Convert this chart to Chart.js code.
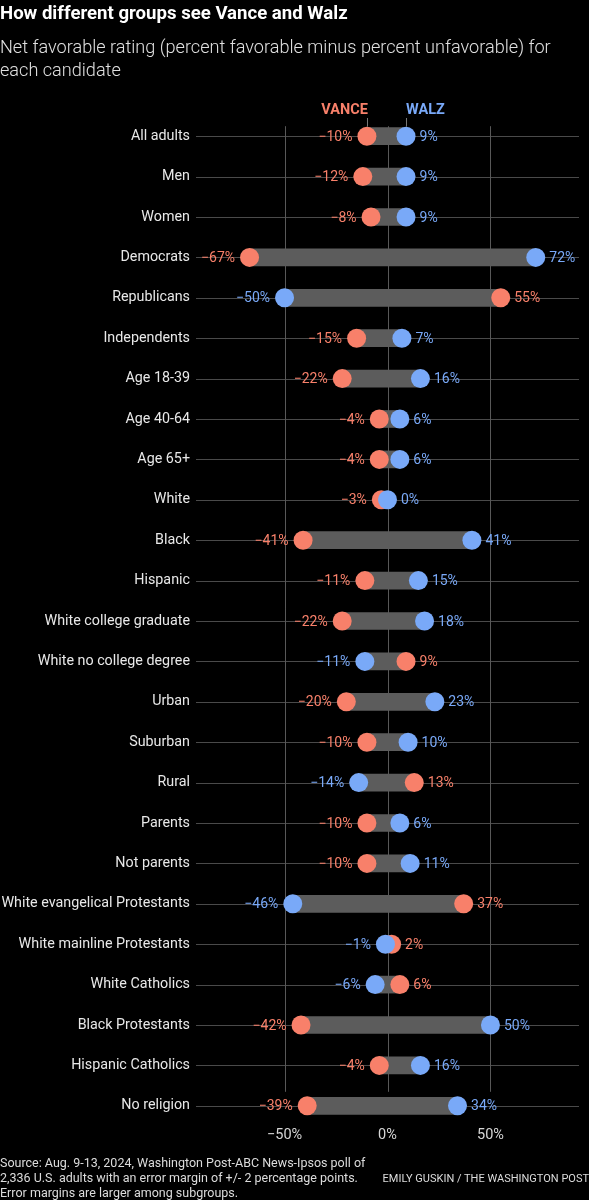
<!DOCTYPE html>
<html><head><meta charset="utf-8">
<script src="https://cdn.jsdelivr.net/npm/chart.js@4.4.1/dist/chart.umd.min.js"></script>
<style>
html,body{margin:0;padding:0;background:#000;}
#wrap{position:relative;width:589px;height:1200px;overflow:hidden;background:#000;font-family:Roboto,"Liberation Sans",sans-serif;}
#c{position:absolute;left:0;top:0;}
#title{position:absolute;left:0;top:1px;color:#fff;font-weight:700;font-size:18.6px;line-height:24px;white-space:nowrap;}
#sub{position:absolute;left:0;top:35px;color:#e0e0e0;font-weight:300;font-size:18.1px;line-height:23px;white-space:nowrap;}
#src{position:absolute;left:0;top:1155px;color:#dcdcdc;font-size:12.5px;line-height:15px;white-space:nowrap;}
#credit{position:absolute;right:0;top:1171px;color:#dcdcdc;font-size:11px;line-height:15px;white-space:nowrap;}
</style></head>
<body>
<div id="wrap">
<canvas id="c" width="589" height="1200"></canvas>
<div id="title">How different groups see Vance and Walz</div>
<div id="sub">Net favorable rating (percent favorable minus percent unfavorable) for<br>each candidate</div>
<div id="src">Source: Aug. 9-13, 2024, Washington Post-ABC News-Ipsos poll of<br>2,336 U.S. adults with an error margin of +/- 2 percentage points.<br>Error margins are larger among subgroups.</div>
<div id="credit">EMILY GUSKIN / THE WASHINGTON POST</div>
</div>
<script>
const categories = ["All adults","Men","Women","Democrats","Republicans","Independents","Age 18-39","Age 40-64","Age 65+","White","Black","Hispanic","White college graduate","White no college degree","Urban","Suburban","Rural","Parents","Not parents","White evangelical Protestants","White mainline Protestants","White Catholics","Black Protestants","Hispanic Catholics","No religion"];
const vance = [-10,-12,-8,-67,55,-15,-22,-4,-4,-3,-41,-11,-22,9,-20,-10,13,-10,-10,37,2,6,-42,-4,-39];
const walz = [9,9,9,72,-50,7,16,6,6,0,41,15,18,-11,23,10,-14,6,11,-46,-1,-6,50,16,34];
const xTicks = [-50,0,50];
const seriesNames = ["VANCE","WALZ"];

const VC = '#f8806a', WC = '#79a9f8', BAR = '#5c5c5c', LINE = '#4a4a4a';
const R = 9.5;
const fmt = v => (v < 0 ? '\u2212' + Math.abs(v) : String(v)) + '%';

const decor = {
  id: 'decor',
  beforeDatasetsDraw(chart) {
    const {ctx, chartArea: a, scales: {x, y}} = chart;
    ctx.save();
    ctx.lineWidth = 1;
    ctx.strokeStyle = LINE;
    categories.forEach((c, i) => {
      const py = Math.round(y.getPixelForValue(i)) + 0.5;
      ctx.beginPath(); ctx.moveTo(a.left, py); ctx.lineTo(a.right, py); ctx.stroke();
    });
    const top = y.getPixelForValue(0) - 10, bot = y.getPixelForValue(categories.length - 1) - 14;
    ctx.strokeStyle = '#585858';
    xTicks.forEach(v => {
      const px = Math.round(x.getPixelForValue(v)) + 0.5;
      ctx.beginPath(); ctx.moveTo(px, top); ctx.lineTo(px, bot); ctx.stroke();
    });
    ctx.restore();
  },
  afterDatasetsDraw(chart) {
    const {ctx, scales: {x, y}} = chart;
    ctx.save();
    ctx.font = '14px Roboto, "Liberation Sans", sans-serif';
    ctx.textBaseline = 'middle';
    categories.forEach((c, i) => {
      const py = y.getPixelForValue(i) + 1;
      const v = vance[i], w = walz[i];
      const xv = x.getPixelForValue(v), xw = x.getPixelForValue(w);
      const put = (val, px, color, left) => {
        ctx.fillStyle = color;
        if (left) { ctx.textAlign = 'right'; ctx.fillText(fmt(val), px - R - 5, py); }
        else { ctx.textAlign = 'left'; ctx.fillText(fmt(val), px + R + 4, py); }
      };
      if (v <= w) { put(v, xv, VC, true); put(w, xw, WC, false); }
      else { put(w, xw, WC, true); put(v, xv, VC, false); }
    });
    // header labels
    const y0 = y.getPixelForValue(0);
    const xv0 = x.getPixelForValue(vance[0]), xw0 = x.getPixelForValue(walz[0]);
    ctx.font = 'bold 14.5px Roboto, "Liberation Sans", sans-serif';
    ctx.textBaseline = 'alphabetic';
    ctx.fillStyle = VC; ctx.textAlign = 'right'; ctx.fillText(seriesNames[0], xv0 + 1, 114);
    ctx.fillStyle = WC; ctx.textAlign = 'left'; ctx.fillText(seriesNames[1], xw0, 114);
    ctx.strokeStyle = '#777'; ctx.lineWidth = 1;
    [xv0, xw0].forEach(px => {
      const p = Math.round(px) + 0.5;
      ctx.beginPath(); ctx.moveTo(p, 118); ctx.lineTo(p, y0 - R); ctx.stroke();
    });
    ctx.restore();
  }
};

new Chart(document.getElementById('c'), {
  type: 'bar',
  data: {
    labels: categories,
    datasets: [
      { type: 'line', indexAxis: 'y', data: walz, showLine: false, pointRadius: R, pointHoverRadius: R,
        pointBackgroundColor: WC, pointBorderWidth: 0, order: 0 },
      { type: 'line', indexAxis: 'y', data: vance, showLine: false, pointRadius: R, pointHoverRadius: R,
        pointBackgroundColor: VC, pointBorderWidth: 0, order: 1 },
      { type: 'bar', indexAxis: 'y', data: categories.map((c, i) => [vance[i], walz[i]]),
        backgroundColor: BAR, barThickness: 17, borderWidth: 0, order: 2 }
    ]
  },
  options: {
    indexAxis: 'y',
    responsive: false,
    animation: false,
    events: [],
    layout: { padding: { top: 116, bottom: 52, left: 0, right: 10 } },
    plugins: { legend: { display: false }, tooltip: { enabled: false } },
    scales: {
      x: {
        type: 'linear', min: -93, max: 93, position: 'bottom',
        afterBuildTicks: s => { s.ticks = xTicks.map(v => ({ value: v })); },
        afterFit: s => { s.height = 22; },
        grid: { display: false, drawTicks: false }, border: { display: false },
        ticks: { color: '#d6d6d6', font: { size: 14.5, family: 'Roboto' }, padding: 1, callback: v => fmt(v), maxRotation: 0, autoSkip: false }
      },
      y: {
        type: 'category', position: 'left',
        afterFit: s => { s.width = 196; },
        grid: { display: false, drawTicks: false }, border: { display: false },
        ticks: { color: '#e8e8e8', font: { size: 14.3, family: 'Roboto' }, padding: 6, autoSkip: false }
      }
    }
  },
  plugins: [decor]
});
</script>
</body></html>
